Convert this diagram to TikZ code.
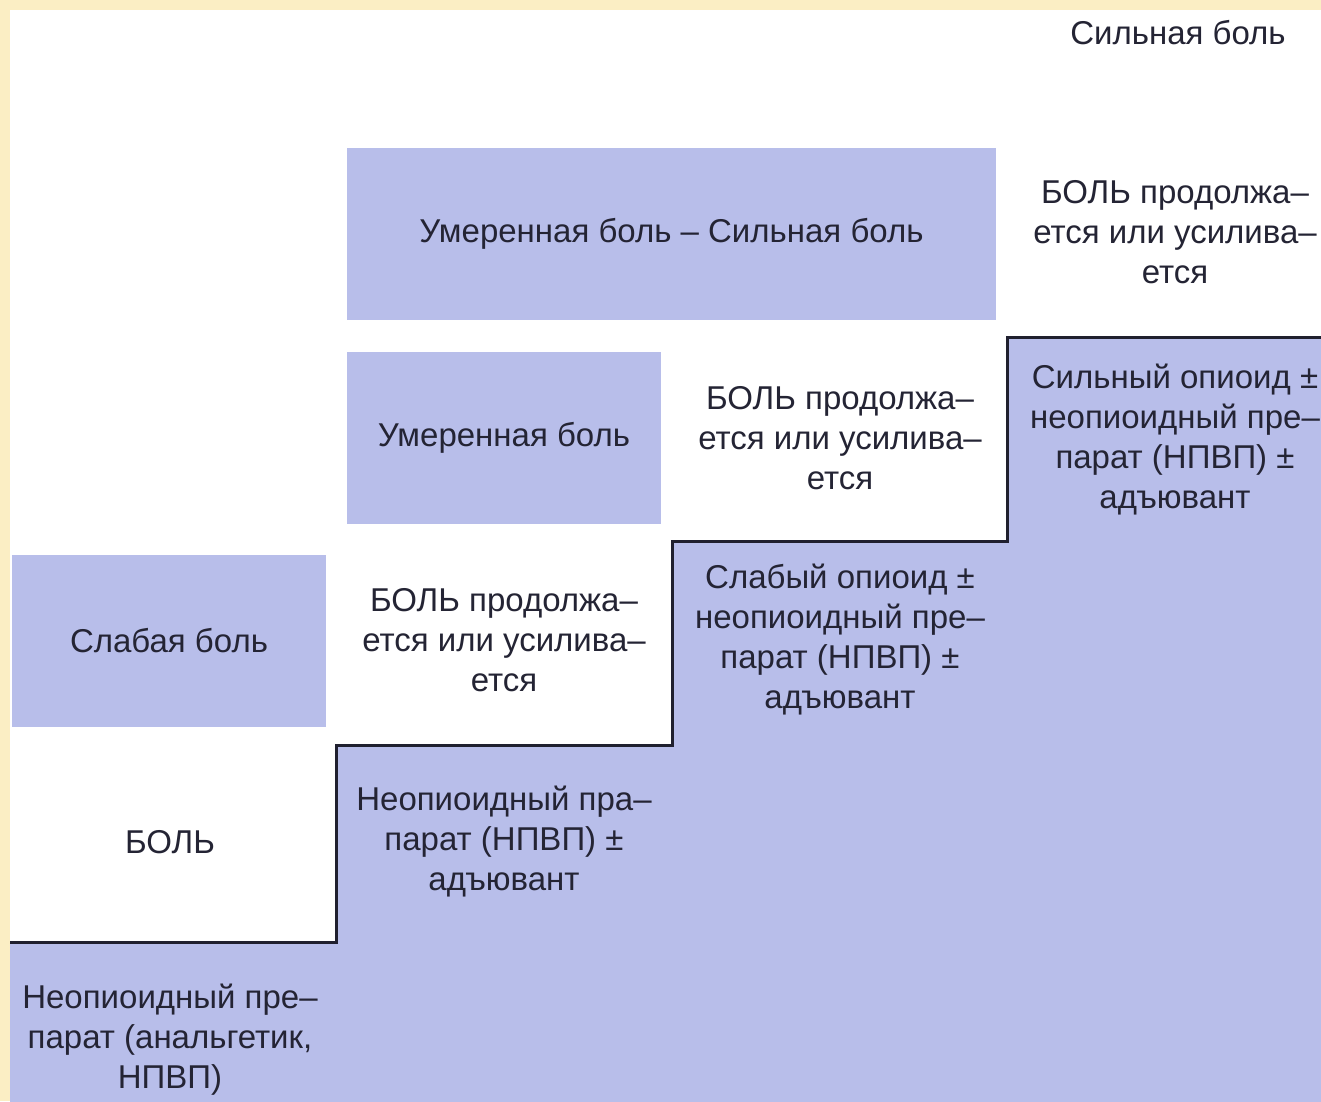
\documentclass[tikz,border=0pt]{standalone}
\usepackage{fontspec}
\setmainfont{Liberation Sans}
\definecolor{stepblue}{RGB}{184,190,234}
\definecolor{pagecream}{RGB}{251,238,196}
\definecolor{inkgray}{RGB}{36,36,52}
\tikzstyle{painbox} = [fill=stepblue, draw=none, inner sep=0pt, text=inkgray, align=center]
\tikzstyle{steptext} = [inner sep=0pt, text=inkgray, align=center]
\tikzstyle{stairline} = [draw=inkgray!90!black, line width=3pt, line join=miter]

\begin{document}
\begin{tikzpicture}[x=1pt, y=-1pt, font=\fontsize{33}{40}\selectfont]
		\useasboundingbox (0,0) rectangle (1321,1101);
		\clip (0,0) rectangle (1321,1101);
		\fill[pagecream] (0,0) rectangle (1321,1101);
		\fill[white] (10,10) rectangle (1321,1101);
		% staircase
		\fill[stepblue] (10,942) -- (336,942) -- (336,745) -- (672,745) -- (672,541) -- (1007,541) -- (1007,337) -- (1330,337) -- (1330,1110) -- (10,1110) -- cycle;
		\draw[stairline] (10,942) -- (336,942) -- (336,745) -- (672,745) -- (672,541) -- (1007,541) -- (1007,337) -- (1330,337);
		% pain levels
		\node[painbox, minimum width=314pt, minimum height=172pt] (weak) at (169,641) {Слабая боль};
		\node[painbox, minimum width=314pt, minimum height=172pt] (moderate) at (504,438) {Умеренная боль};
		\node[painbox, minimum width=649pt, minimum height=172pt] (severe) at (671.5,234) {Умеренная боль – Сильная боль};
		\node[steptext] (top) at (1178,33) {Сильная боль};
		% pain persists
		\node[steptext] (pain) at (170,842) {БОЛЬ};
		\node[steptext] (persists1) at (504,640) {БОЛЬ продолжа–\\ется или усилива–\\ется};
		\node[steptext] (persists2) at (840,438) {БОЛЬ продолжа–\\ется или усилива–\\ется};
		\node[steptext] (persists3) at (1175,232) {БОЛЬ продолжа–\\ется или усилива–\\ется};
		% treatment steps
		\node[steptext] (step1) at (170,1040) {Неопиоидный пре–\\парат (анальгетик,\\НПВП)};
		\node[steptext] (step2) at (504,842) {Неопиоидный пра–\\парат (НПВП) ±\\адъювант};
		\node[steptext] (step3) at (840,640) {Слабый опиоид ±\\неопиоидный пре–\\парат (НПВП) ±\\адъювант};
		\node[steptext] (step4) at (1175,440) {Сильный опиоид ±\\неопиоидный пре–\\парат (НПВП) ±\\адъювант};
	\end{tikzpicture}
\end{document}
